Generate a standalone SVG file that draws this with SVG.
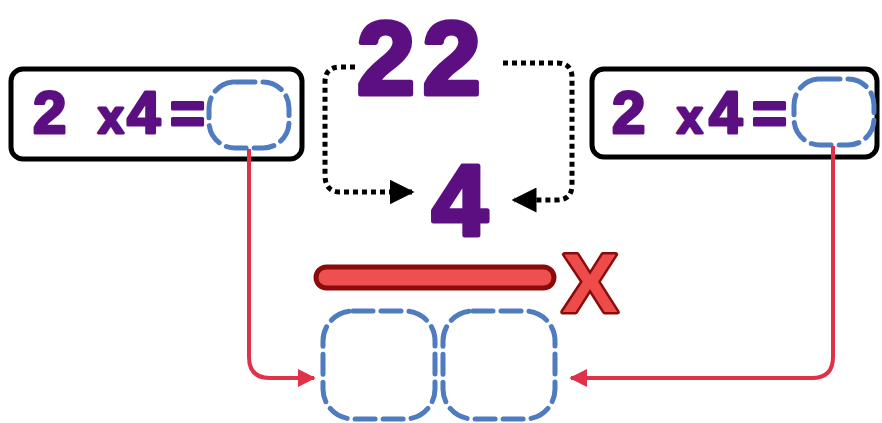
<svg xmlns="http://www.w3.org/2000/svg" width="882" height="423" viewBox="0 0 882 423">
<defs>
<style>
.box{fill:#fff;stroke:#000;stroke-width:5}
.slot{fill:none;stroke:#4f7bc0;stroke-width:5;stroke-dasharray:20 8;stroke-linecap:round}
.eq{font-family:"Liberation Sans",Arial,sans-serif;font-weight:bold;font-size:60px;fill:#5b0f80;stroke:#5b0f80;stroke-width:3;stroke-linejoin:round}
.sx{font-size:46px}
.big{font-family:"Liberation Sans",Arial,sans-serif;font-weight:bold;fill:#5b0f80;stroke:#5b0f80;stroke-width:5;stroke-linejoin:round}
.dot{fill:none;stroke:#000;stroke-width:5;stroke-dasharray:5 4}
.red{fill:none;stroke:#e0304a;stroke-width:4}
</style>
<marker id="ah" viewBox="0 0 10 10" refX="9" refY="5" markerWidth="5" markerHeight="5" orient="auto" markerUnits="strokeWidth">
<path d="M0,0 L10,5 L0,10 z" fill="#000"/>
</marker>
<marker id="rh" viewBox="0 0 10 10" refX="9" refY="5" markerWidth="4.5" markerHeight="4.5" orient="auto" markerUnits="strokeWidth">
<path d="M0,0 L10,5 L0,10 z" fill="#e0304a"/>
</marker>
</defs>
<rect width="882" height="423" fill="#fff"/>
<g id="left-eq">
<rect class="box" x="11" y="69" width="291" height="90" rx="12"/>
<text class="eq" y="133"><tspan x="33">2</tspan><tspan class="sx" x="98">x</tspan><tspan x="127">4</tspan><tspan x="170">=</tspan></text>
<rect class="slot" x="209" y="82" width="80" height="66" rx="26"/>
</g>
<g id="right-eq">
<rect class="box" x="592" y="69" width="285" height="88" rx="12"/>
<text class="eq" y="133"><tspan x="612">2</tspan><tspan class="sx" x="677">x</tspan><tspan x="709">4</tspan><tspan x="752">=</tspan></text>
<rect class="slot" x="794" y="79" width="80" height="66" rx="26"/>
</g>
<g id="number22">
<text class="big" x="357" y="94" font-size="104" letter-spacing="8">22</text>
</g>
<g id="number4">
<text class="big" x="432" y="235" font-size="100">4</text>
</g>
<g id="bar">
<rect x="316" y="267" width="238" height="21" rx="10.5" fill="#ee5050" stroke="#8b0a0a" stroke-width="5"/>
<text x="590" y="312" font-family="Liberation Sans,Arial,sans-serif" font-weight="bold" font-size="84" text-anchor="middle" fill="#ee4b4b" stroke="#8b0a0a" stroke-width="5" stroke-linejoin="round" paint-order="stroke">X</text>
</g>
<g id="answer-slots">
<rect class="slot" x="323" y="311" width="112" height="108" rx="30"/>
<rect class="slot" x="443" y="311" width="112" height="108" rx="30"/>
</g>
<g id="connectors">
<path class="dot" d="M355,67 H340 Q325,67 325,82 V175 Q325,192 340,192 H412" marker-end="url(#ah)"/>
<path class="dot" d="M503,63 H557 Q572,63 572,78 V185 Q572,200 557,200 H514" marker-end="url(#ah)"/>
<path class="red" d="M249,149 V357 Q249,378 270,378 H314" marker-end="url(#rh)"/>
<path class="red" d="M833,146 V357 Q833,378 812,378 H571" marker-end="url(#rh)"/>
</g>
</svg>
